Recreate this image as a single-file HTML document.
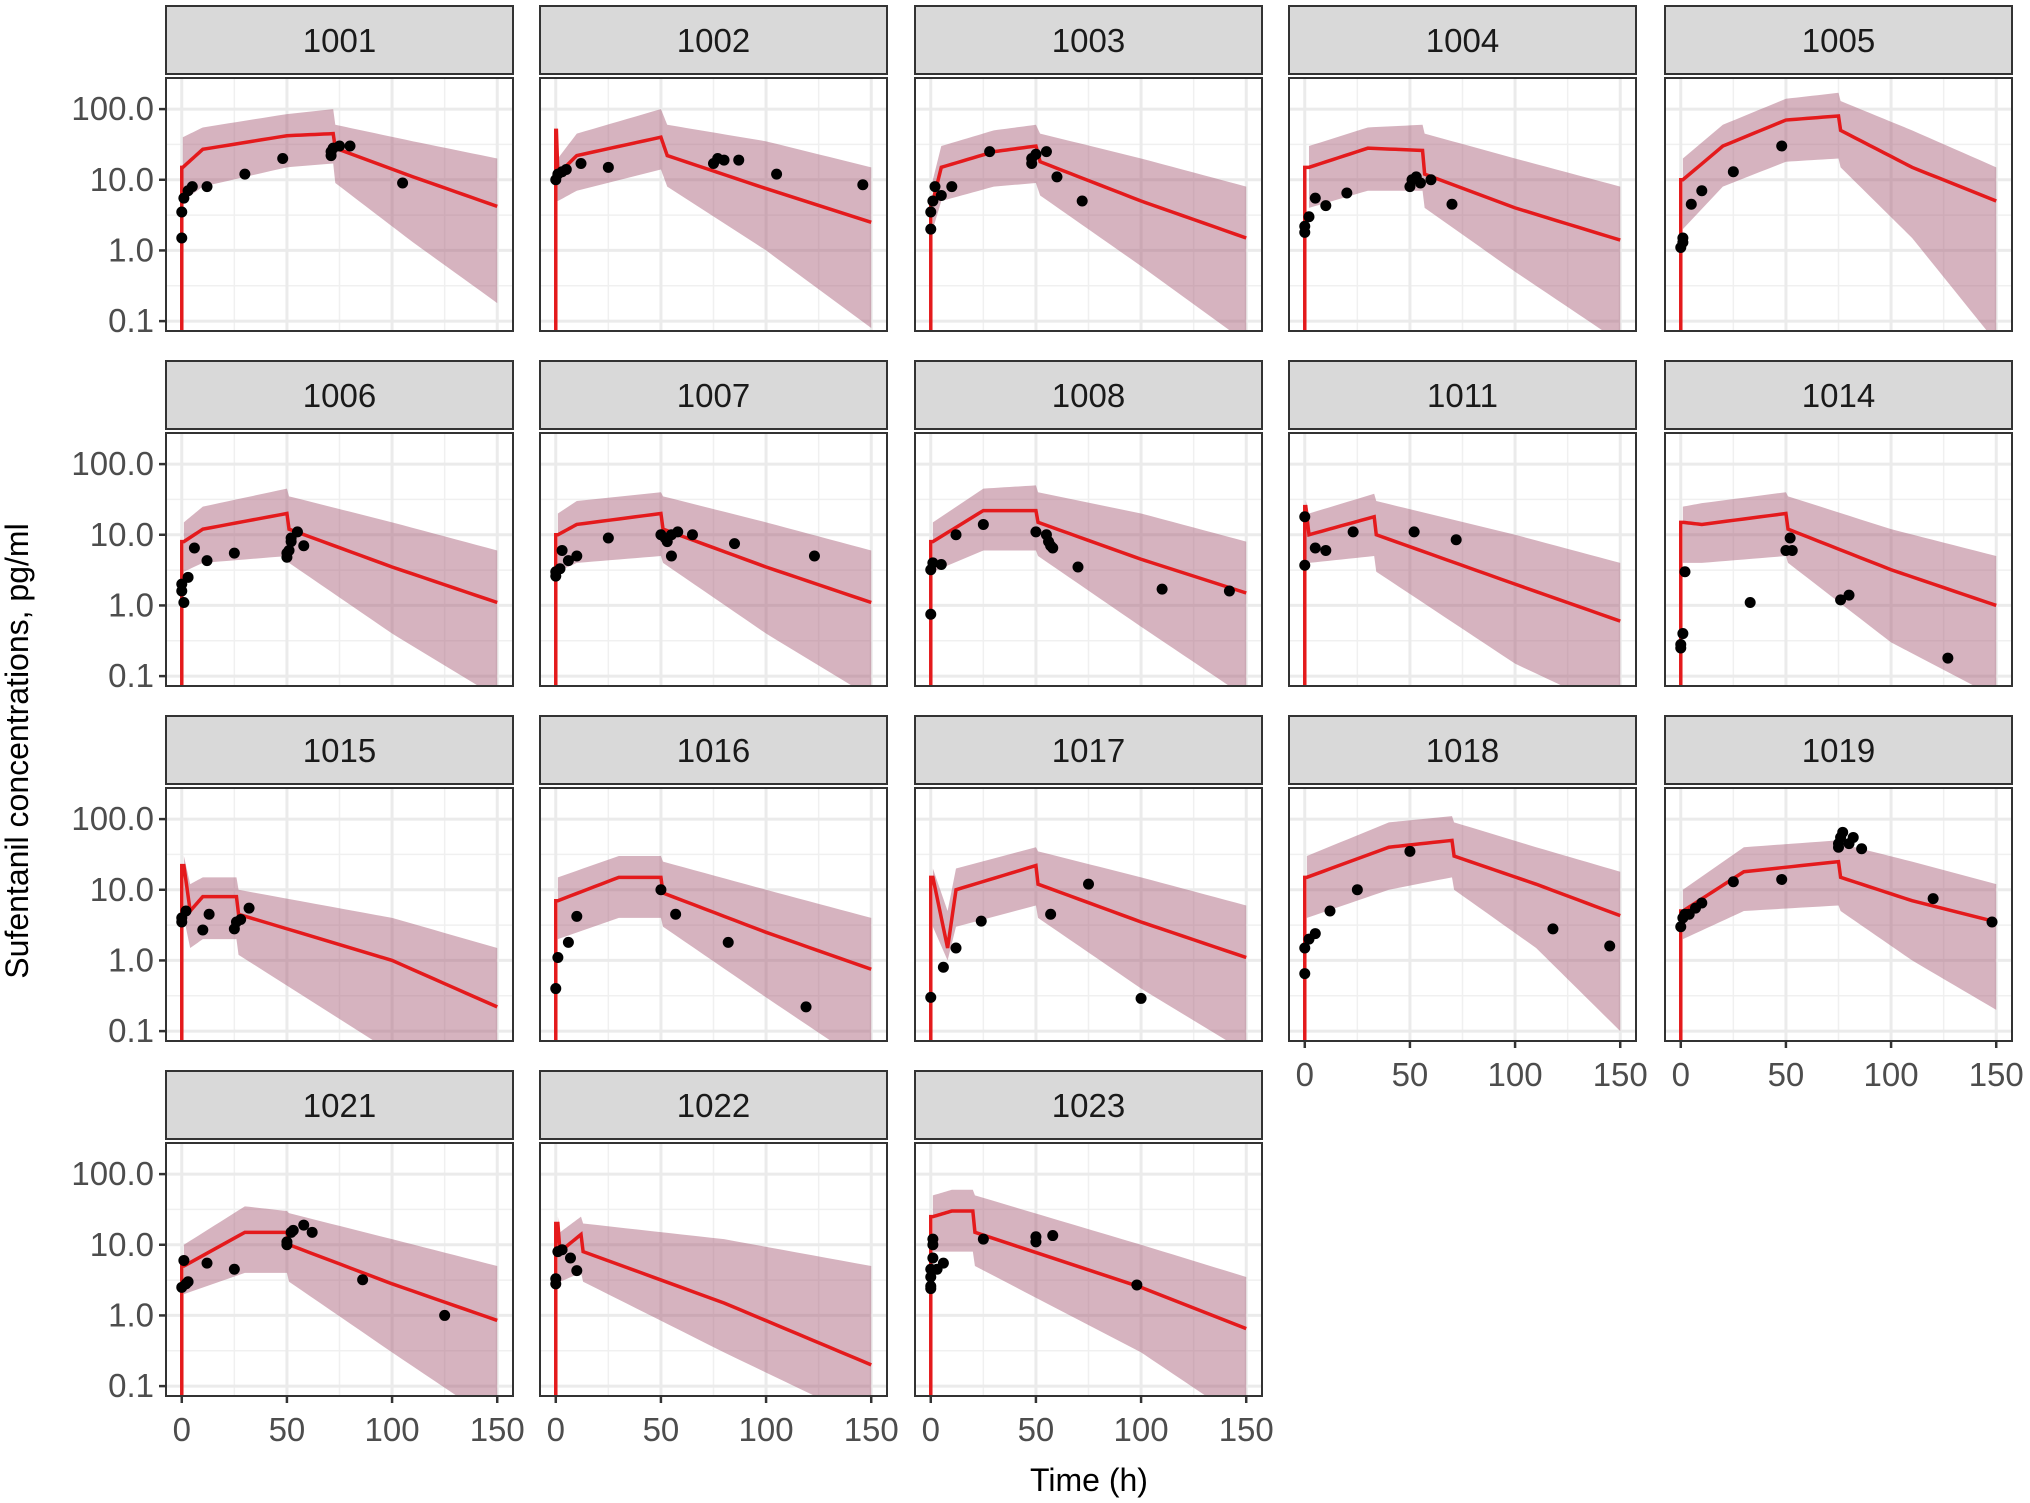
<!DOCTYPE html>
<html><head><meta charset="utf-8"><style>
html,body{margin:0;padding:0;background:#fff;}
svg{display:block;font-family:"Liberation Sans",Arial,sans-serif;}
</style></head><body>
<svg id="chart" width="2030" height="1503" viewBox="0 0 2030 1503"></svg>
<script>
const subjects=["1001","1002","1003","1004","1005","1006","1007","1008","1011","1014","1015","1016","1017","1018","1019","1021","1022","1023"];
const xTicks=[0,50,100,150];
const yTicks=[0.1,1,10,100];
const yTickLabels=["0.1","1.0","10.0","100.0"];
// model prediction: [time, median, lower, upper]
const predCurves=[
[[0.5,15,5,40],[10,27,8,55],[50,42,15,85],[72,45,17,100],[73,28,9,60],[110,11,1.3,35],[150,4.2,0.18,20]],
[[0.3,50,5,60],[1,12,5,20],[10,22,7,45],[50,40,14,100],[53,22,8,60],[100,7.5,1,35],[150,2.5,0.08,15]],
[[1,5,2,10],[5,15,5,30],[30,25,8,50],[50,30,9,60],[52,18,6,45],[100,5,0.6,20],[150,1.5,0.05,8]],
[[2,15,4,30],[30,28,7,55],[56,26,7,60],[57,12,4,45],[100,4,0.5,20],[150,1.4,0.05,8]],
[[1,10,2,20],[20,30,8,60],[50,70,18,140],[75,80,20,170],[76,50,15,130],[110,15,1.5,50],[150,5,0.05,15]],
[[1,8,3,15],[10,12,4,25],[50,20,5,45],[51,12,4,35],[100,3.5,0.4,15],[150,1.1,0.05,6]],
[[1,10,3,20],[10,14,4,30],[50,20,5,40],[51,12,4,35],[100,3.5,0.4,15],[150,1.1,0.05,6]],
[[1,8,3,15],[25,22,6,45],[50,22,6,50],[51,15,5,40],[100,4.5,0.5,20],[150,1.5,0.05,8]],
[[0.5,25,4,30],[2,10,4,20],[33,18,5,38],[34,10,3,30],[100,2,0.15,10],[150,0.6,0.03,4]],
[[1,15,4,25],[10,14,4,28],[50,20,5,40],[51,12,4,35],[100,3.2,0.3,12],[150,1.0,0.05,5]],
[[1,22,4,30],[4,5,1.5,12],[10,8,2,15],[26,8,2,15],[27,4.5,1.2,10],[100,1,0.05,4],[150,0.22,0.02,1.5]],
[[1,7,2,15],[30,15,4,30],[50,15,4,30],[51,9,3,25],[100,2.5,0.3,10],[150,0.75,0.03,4]],
[[1,15,3,20],[8,1.5,1,5],[12,10,3,20],[50,22,6,40],[51,12,4,35],[100,3.5,0.4,15],[150,1.1,0.05,6]],
[[1,15,4,30],[40,40,10,90],[70,50,15,110],[71,30,10,90],[110,12,1.5,40],[150,4.3,0.1,18]],
[[1,5,2,10],[30,18,5,40],[75,25,6,50],[76,15,5,45],[110,7,1,25],[150,3.5,0.2,12]],
[[1,5,2,10],[30,15,4,35],[50,15,4,30],[51,10,3,28],[100,2.8,0.3,12],[150,0.85,0.03,5]],
[[1,20,3,25],[2,8,3,15],[12,14,4,25],[13,8,3,20],[80,1.5,0.3,12],[150,0.2,0.03,5]],
[[1,25,8,50],[10,30,8,60],[20,30,8,60],[21,15,5,50],[100,2.5,0.3,10],[150,0.65,0.03,3.5]]
];
const obsTimes=[
[0,0,1,3,5,12,30,48,71,71,72,75,80,105],
[0,1,3,5,12,25,75,77,80,87,105,146],
[0,0,1,2,5,10,28,48,48,50,55,60,72],
[0,0,2,5,10,20,50,51,53,55,60,70],
[0,1,1,5,10,25,48],
[0,0,1,3,6,12,25,50,50,51,52,52,55,58],
[0,0,2,3,6,10,25,50,52,53,55,55,58,65,85,123],
[0,0,1,5,12,25,50,55,56,57,58,70,110,142],
[0,0,5,10,23,52,72],
[0,0,1,2,33,50,52,53,76,80,127],
[0,0,2,10,13,25,26,28,32],
[0,1,6,10,50,57,82,119],
[0,6,12,24,57,75,100],
[0,0,2,5,12,25,50,118,145],
[0,1,2,4,7,10,25,48,75,75,76,77,80,82,86,120,148],
[0,1,2,3,12,25,50,50,52,53,58,62,86,125],
[0,0,1,3,7,10],
[0,0,0,0,1,1,1,3,6,25,50,50,58,98]
];
const obsConc=[
[1.5,3.5,5.5,7,8,8,12,20,22,25,28,30,30,9],
[10,12,13,14,17,15,17,20,19,19,12,8.5],
[2,3.5,5,8,6,8,25,17,20,23,25,11,5],
[1.8,2.2,3,5.5,4.3,6.5,8,10,11,9,10,4.5],
[1.1,1.3,1.5,4.5,7,13,30],
[1.6,2,1.1,2.5,6.5,4.3,5.5,4.8,5.5,6,8,9,11,7],
[2.6,3,3.3,6,4.3,5,9,10,9,8,5,10,11,10,7.5,5],
[0.75,3.2,4,3.8,10,14,11,10,8,7,6.5,3.5,1.7,1.6],
[18,3.7,6.5,6,11,11,8.5],
[0.25,0.28,0.4,3,1.1,6,9,6,1.2,1.4,0.18],
[3.5,4,5,2.7,4.5,2.8,3.5,3.8,5.5],
[0.4,1.1,1.8,4.2,10,4.5,1.8,0.22],
[0.3,0.8,1.5,3.6,4.5,12,0.29],
[0.65,1.5,2,2.4,5,10,35,2.8,1.6],
[3,4,4.5,4.5,5.5,6.5,13,14,40,45,55,65,45,55,38,7.5,3.5],
[2.5,6,2.8,3,5.5,4.5,10,11,15,16,19,15,3.2,1],
[2.8,3.3,8,8.5,6.5,4.3],
[2.4,2.6,3.5,4.5,6.5,10,12,4.5,5.5,12,11,13,13.5,2.7]
];

const NS="http://www.w3.org/2000/svg";
const svg=document.getElementById('chart');
function mk(tag,attrs,parent){const e=document.createElementNS(NS,tag);for(const k in attrs)e.setAttribute(k,attrs[k]);(parent||svg).appendChild(e);return e;}
const colX=[166,540,915,1289,1665], panelW=347;
const rowStrip=[6,361,716,1071], stripH=68, panelH=253;
const xMin=-7.5,xMax=157.5;
const lMin=-1.14,lMax=2.44;
const defs=mk('defs',{});
subjects.forEach((s,i)=>{
  const r=Math.floor(i/5),c=i%5;
  const px=colX[c],sy=rowStrip[r],py=sy+stripH+4;
  const xs=t=>px+(t-xMin)/(xMax-xMin)*panelW;
  const ys=v=>py+(lMax-Math.log10(v))/(lMax-lMin)*panelH;
  const g=mk('g',{});
  
  
  const strip=mk('rect',{x:px,y:sy,width:panelW,height:stripH,fill:'#d9d9d9',stroke:'#333','stroke-width':2},g);
  
  
  const st=mk('text',{x:px+panelW/2,y:sy+stripH/2+12,'text-anchor':'middle','font-size':33,fill:'#1a1a1a'},g);
  st.textContent=s;
  
  
  const cp=mk('clipPath',{id:'cp'+i},defs);
  mk('rect',{x:px,y:py,width:panelW,height:panelH},cp);
  mk('rect',{x:px,y:py,width:panelW,height:panelH,fill:'#fff'},g);
  const grid=mk('g',{'clip-path':'url(#cp'+i+')'},g);
  [25,75,125].forEach(t=>mk('line',{x1:xs(t),x2:xs(t),y1:py,y2:py+panelH,stroke:'#f0f0f0','stroke-width':1.5},grid));
  [-1.5,-0.5,0.5,1.5,2.5].forEach(l=>mk('line',{x1:px,x2:px+panelW,y1:ys(Math.pow(10,l)),y2:ys(Math.pow(10,l)),stroke:'#f0f0f0','stroke-width':1.5},grid));
  xTicks.forEach(t=>mk('line',{x1:xs(t),x2:xs(t),y1:py,y2:py+panelH,stroke:'#ebebeb','stroke-width':3},grid));
  yTicks.forEach(v=>mk('line',{x1:px,x2:px+panelW,y1:ys(v),y2:ys(v),stroke:'#ebebeb','stroke-width':3},grid));
  const pts=predCurves[i];
  const dense=[];
  for(let k=0;k<pts.length-1;k++){const a=pts[k],b=pts[k+1];const n=10;for(let j=0;j<n;j++){const f=j/n;dense.push([a[0]+(b[0]-a[0])*f,...[1,2,3].map(q=>Math.pow(10,Math.log10(a[q])+(Math.log10(b[q])-Math.log10(a[q]))*f))]);}}
  dense.push(pts[pts.length-1]);
  let d='M'+xs(dense[0][0])+','+ys(dense[0][3]);
  dense.forEach(p=>d+=' L'+xs(p[0])+','+ys(p[3]));
  for(let k=dense.length-1;k>=0;k--)d+=' L'+xs(dense[k][0])+','+ys(dense[k][2]);
  const band=mk('path',{d:d+'Z',fill:'#a35670','fill-opacity':0.45,'clip-path':'url(#cp'+i+')'},g);
  
  
  let ld='M'+xs(0)+','+(py+panelH+5)+' L'+xs(0)+','+ys(dense[0][1]);
  dense.forEach(p=>ld+=' L'+xs(p[0])+','+ys(p[1]));
  const line=mk('path',{d:ld,fill:'none',stroke:'#e41a1c','stroke-width':3.5,'clip-path':'url(#cp'+i+')'},g);
  
  
  obsTimes[i].forEach((t,k)=>{
    const pt=mk('circle',{cx:xs(t),cy:ys(obsConc[i][k]),r:5.5,fill:'#000','clip-path':'url(#cp'+i+')'},g);
    
    
  });
  mk('rect',{x:px,y:py,width:panelW,height:panelH,fill:'none',stroke:'#333','stroke-width':2},g);
  if(c===0){
    yTicks.forEach((v,k)=>{
      mk('line',{x1:px-7,x2:px,y1:ys(v),y2:ys(v),stroke:'#333','stroke-width':2.5},g);
      const tl=mk('text',{x:px-12,y:ys(v)+11,'text-anchor':'end','font-size':33,fill:'#4d4d4d'},g);
      tl.textContent=yTickLabels[k];
      
      
    });
  }
  const bottom=(i+5>=subjects.length);
  if(bottom){
    xTicks.forEach(t=>{
      mk('line',{x1:xs(t),x2:xs(t),y1:py+panelH,y2:py+panelH+7,stroke:'#333','stroke-width':2.5},g);
      const tl=mk('text',{x:xs(t),y:py+panelH+45,'text-anchor':'middle','font-size':33,fill:'#4d4d4d'},g);
      tl.textContent=String(t);
      
      
    });
  }
});
const yt=mk('text',{x:0,y:0,'text-anchor':'middle','font-size':32,fill:'#000',transform:'translate(28,751) rotate(-90)'});
yt.textContent='Sufentanil concentrations, pg/ml';


const xt=mk('text',{x:1089,y:1491,'text-anchor':'middle','font-size':32,fill:'#000'});
xt.textContent='Time (h)';


</script>
</body></html>
